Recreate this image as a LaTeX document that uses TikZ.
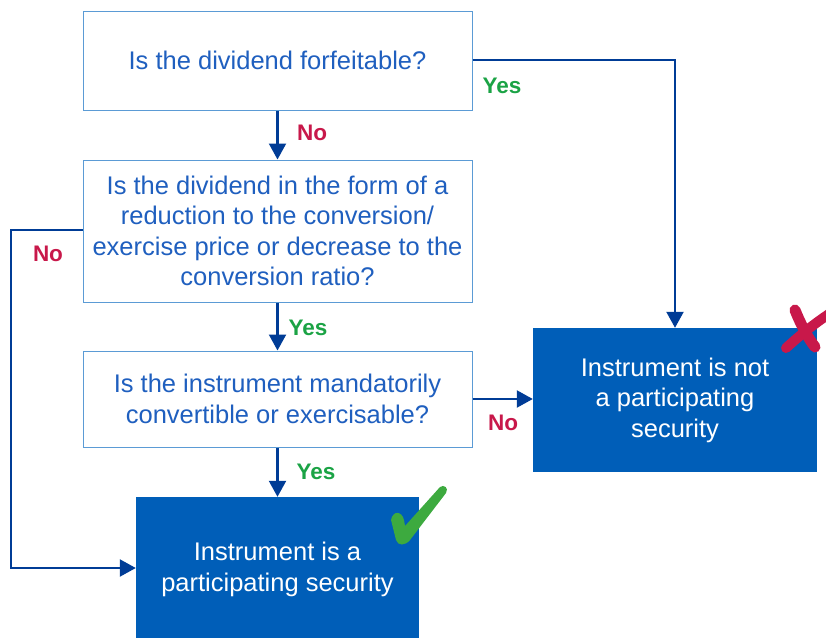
\documentclass[tikz,border=0pt]{standalone}
\usepackage{fontspec}
\setmainfont{Liberation Sans}
\usetikzlibrary{arrows.meta}
\definecolor{qblue}{HTML}{5B9BD5}
\definecolor{tblue}{HTML}{1F5FBF}
\definecolor{fblue}{HTML}{005EB8}
\definecolor{navy}{HTML}{003C96}
\definecolor{nored}{HTML}{C8184A}
\definecolor{yesgreen}{HTML}{1BA345}
\definecolor{chk}{HTML}{3DAA3F}
\tikzset{
  qbox/.style={draw=qblue, line width=1pt, fill=white, text=tblue, align=center, inner sep=0pt,
    font=\fontsize{25.5}{30.5}\selectfont},
  abox/.style={fill=fblue, text=white, align=center, inner sep=0pt,
    font=\fontsize{25.5}{30.5}\selectfont},
  conn/.style={draw=navy, line width=2.2pt, -{Triangle[length=16pt,width=17pt]}},
  nolab/.style={text=nored, font=\fontsize{22.5}{24}\selectfont\bfseries},
  yeslab/.style={text=yesgreen, font=\fontsize{22.5}{24}\selectfont\bfseries},
}
\begin{document}
\begin{tikzpicture}[x=1pt,y=-1pt]
\useasboundingbox (0,0) rectangle (826,637);
\begin{scope}
\clip (0,0) rectangle (826,637);
\node[qbox, minimum width=389pt, minimum height=99pt] (q1) at (277.5,60.5) {Is the dividend forfeitable?};
\node[qbox, minimum width=389pt, minimum height=142pt] (q2) at (277.5,231) {Is the dividend in the form of a\\reduction to the conversion/\\exercise price or decrease to the\\conversion ratio?};
\node[qbox, minimum width=389pt, minimum height=96pt] (q3) at (277.5,399) {Is the instrument mandatorily\\convertible or exercisable?};
\node[abox, minimum width=283pt, minimum height=145pt] (a1) at (277.5,569.5) {Instrument is a\\participating security};
\node[abox, minimum width=284pt, minimum height=144pt] (a2) at (675,400) {Instrument is not\\a participating\\security};
\coordinate (c1) at (675,60);
\coordinate (c2) at (11,230);
\coordinate (c3) at (11,568);
\draw[conn] (q1.south) -- (q2.north);
\draw[conn] (q2.south) -- (q3.north);
\draw[conn] (q3.south) -- (a1.north);
\draw[conn] (q1.east |- c1) -- (c1) -- (a2.north);
\draw[conn] (q3.east) -- (a2.west |- q3.east);
\draw[conn] (q2.west |- c2) -- (c2) -- (c3) -- (a1.west |- c3);
\node[nolab] (n1) at (312,133) {No};
\node[yeslab] (y1) at (308,328) {Yes};
\node[yeslab] (y2) at (316,472) {Yes};
\node[yeslab] (y3) at (502,86) {Yes};
\node[nolab] (n2) at (503,423) {No};
\node[nolab] (n3) at (48,254) {No};
% check mark
\fill[chk] (391,520) .. controls (393,510) and (402,511) .. (404,520) -- (405,526)
  -- (440,487) .. controls (444,484) and (449,488) .. (446,493)
  -- (410,540) .. controls (405,546) and (398,546) .. (396,540) -- cycle;
% cross mark
\draw[nored, line width=11pt, line cap=round] (795,310) .. controls (801,325) and (808,338) .. (815,347);
\draw[nored, line width=10pt, line cap=round] (786,348) .. controls (797,338) and (812,325) .. (832,312);
\end{scope}
\end{tikzpicture}
\end{document}
